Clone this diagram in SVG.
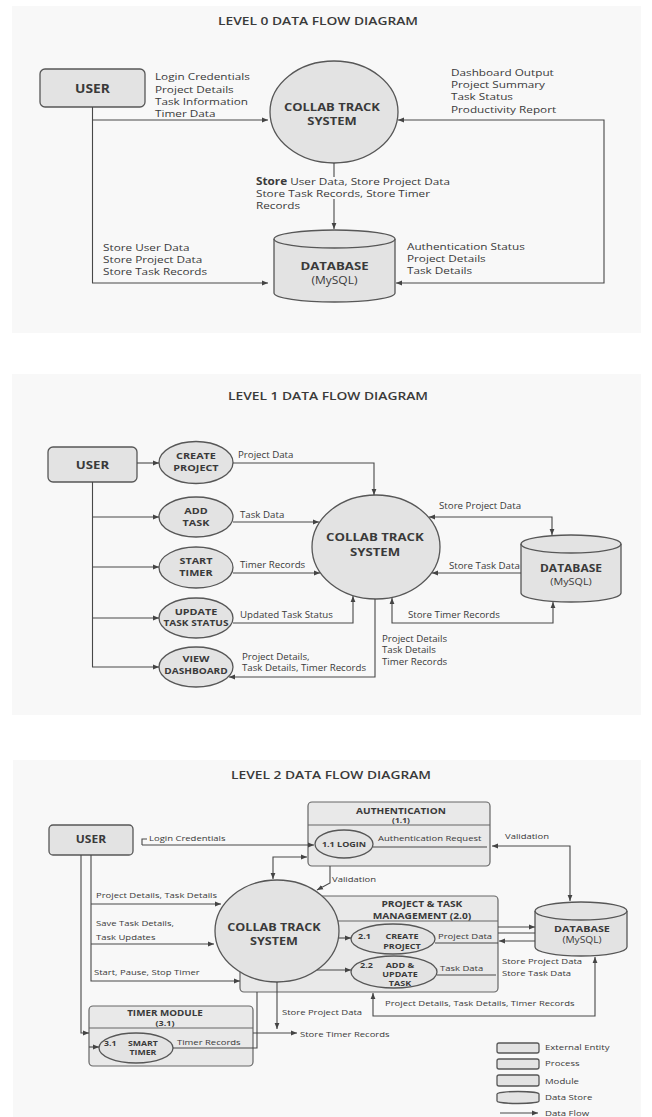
<svg xmlns="http://www.w3.org/2000/svg" width="652" height="1117" viewBox="0 0 652 1117">
<defs>
<marker id="ar" viewBox="0 0 10 10" refX="10" refY="5" markerWidth="6" markerHeight="6" markerUnits="userSpaceOnUse" orient="auto-start-reverse"><path d="M0,1 L10,5 L0,9 z" fill="#444"/></marker>
</defs>
<style>
text{font-family:"Open Sans","Liberation Sans",sans-serif;fill:#3a3a3a;transform-box:fill-box;}
.s{transform-origin:0% 50%;transform:scaleX(1.2);}
.m{text-anchor:middle;transform-origin:50% 50%;transform:scaleX(1.2);}
.ti{font-size:11.5px;font-weight:600;}
.b{font-weight:700;}
.l0{font-size:9.8px;}
.l1{font-size:8.1px;}
.l2{font-size:7.9px;}
.panel{fill:#f8f8f8;stroke:none;}
.nd{fill:#e3e3e3;stroke:#575757;stroke-width:1.3;}
.md{fill:#e9e9e9;stroke:#666;stroke-width:1.2;}
.cn path{fill:none;stroke:#484848;stroke-width:1.1;}
.ah{marker-end:url(#ar);}
.ah2{marker-start:url(#ar);marker-end:url(#ar);}
</style>
<rect width="652" height="1117" fill="#ffffff"/>
<rect class="panel" x="12" y="6" width="629" height="327"/>
<rect class="panel" x="12" y="374" width="629" height="341"/>
<rect class="panel" x="13" y="760" width="628" height="357"/>

<!-- LEVEL 0 -->
<text class="m ti" x="318" y="25">LEVEL 0 DATA FLOW DIAGRAM</text>
<g id="l0-user"><rect class="nd" x="40" y="69" width="105" height="38" rx="5"/><text class="m b" style="font-size:11.5px" x="92.5" y="93">USER</text></g>
<g id="l0-system"><ellipse class="nd" cx="334" cy="112" rx="64" ry="51"/><text class="m b" style="font-size:10.8px" x="332" y="111.5">COLLAB TRACK</text><text class="m b" style="font-size:10.8px" x="332" y="125.5">SYSTEM</text></g>
<g id="l0-db"><path class="nd" d="M274,239 A60.5,9 0 0,1 395,239 V293 A60.5,9 0 0,1 274,293 Z"/><path d="M274,239 A60.5,9 0 0,0 395,239" fill="none" stroke="#575757" stroke-width="1.3"/><text class="m b" style="font-size:11px" x="334.5" y="270">DATABASE</text><text class="m" style="font-size:10px" x="334.5" y="284">(MySQL)</text></g>
<g class="cn" id="l0-flows">
<path class="ah" d="M92.5,107 V283 H268"/>
<path class="ah" d="M92.5,120 H268"/>
<path d="M334,163 V177"/>
<path class="ah" d="M334,199 V229"/>
<path class="ah2" d="M398,120 H604 V283 H396"/>
</g>
<g id="l0-labels">
<text class="s l0" x="155" y="80.5">Login Credentials</text>
<text class="s l0" x="155" y="93">Project Details</text>
<text class="s l0" x="155" y="105">Task Information</text>
<text class="s l0" x="155" y="117.5">Timer Data</text>
<text class="s l0" x="451" y="76.5">Dashboard Output</text>
<text class="s l0" x="451" y="88.5">Project Summary</text>
<text class="s l0" x="451" y="100.5">Task Status</text>
<text class="s l0" x="451" y="113.5">Productivity Report</text>
<text class="s l0" x="256" y="185.5"><tspan font-weight="700">Store</tspan> User Data, Store Project Data</text>
<text class="s l0" x="256" y="197.5">Store Task Records, Store Timer</text>
<text class="s l0" x="256" y="209.5">Records</text>
<text class="s l0" x="103" y="251.5">Store User Data</text>
<text class="s l0" x="103" y="263.5">Store Project Data</text>
<text class="s l0" x="103" y="275.5">Store Task Records</text>
<text class="s l0" x="407" y="250.5">Authentication Status</text>
<text class="s l0" x="407" y="262.5">Project Details</text>
<text class="s l0" x="407" y="274.5">Task Details</text>
</g>

<!-- LEVEL 1 -->
<text class="m ti" x="328" y="400">LEVEL 1 DATA FLOW DIAGRAM</text>
<g id="l1-user"><rect class="nd" x="48" y="447" width="89" height="35" rx="5"/><text class="m b" style="font-size:11px" x="92.5" y="469">USER</text></g>
<g id="l1-create"><ellipse class="nd" cx="196" cy="462.5" rx="37" ry="21"/><text class="m b" style="font-size:9px" x="196" y="459">CREATE</text><text class="m b" style="font-size:9px" x="196" y="471">PROJECT</text></g>
<g id="l1-add"><ellipse class="nd" cx="196" cy="517" rx="37" ry="20"/><text class="m b" style="font-size:9px" x="196" y="514">ADD</text><text class="m b" style="font-size:9px" x="196" y="526">TASK</text></g>
<g id="l1-start"><ellipse class="nd" cx="196" cy="567.5" rx="37" ry="20.5"/><text class="m b" style="font-size:9px" x="196" y="564">START</text><text class="m b" style="font-size:9px" x="196" y="576">TIMER</text></g>
<g id="l1-update"><ellipse class="nd" cx="196" cy="618" rx="37" ry="20"/><text class="m b" style="font-size:9px" x="196" y="615">UPDATE</text><text class="m b" style="font-size:8.4px" x="196" y="626">TASK STATUS</text></g>
<g id="l1-view"><ellipse class="nd" cx="196" cy="667" rx="37" ry="20"/><text class="m b" style="font-size:9px" x="196" y="662">VIEW</text><text class="m b" style="font-size:8.4px" x="196" y="674">DASHBOARD</text></g>
<g id="l1-system"><ellipse class="nd" cx="376" cy="547" rx="64" ry="52"/><text class="m b" style="font-size:11px" x="375" y="541.5">COLLAB TRACK</text><text class="m b" style="font-size:11px" x="375" y="556">SYSTEM</text></g>
<g id="l1-db"><path class="nd" d="M521,544 A50,9 0 0,1 621,544 V593 A50,9 0 0,1 521,593 Z"/><path d="M521,544 A50,9 0 0,0 621,544" fill="none" stroke="#575757" stroke-width="1.3"/><text class="m b" style="font-size:10px" x="571" y="572">DATABASE</text><text class="m" style="font-size:9px" x="571" y="585.5">(MySQL)</text></g>
<g class="cn" id="l1-flows">
<path class="ah" d="M137,463 H159"/>
<path class="ah" d="M92.5,482 V667 H159"/>
<path class="ah" d="M92.5,517 H159"/>
<path class="ah" d="M92.5,567 H159"/>
<path class="ah" d="M92.5,618 H159"/>
<path class="ah" d="M233,463 H374 V495"/>
<path class="ah" d="M233,522 H319"/>
<path class="ah" d="M233,573 H320"/>
<path class="ah" d="M233,623 H353 V596"/>
<path class="ah" d="M375,599 V677 H229"/>
<path class="ah2" d="M429,517 H552 V535"/>
<path class="ah" d="M521,573 H432"/>
<path class="ah2" d="M392,598 V623 H553 V602"/>
</g>
<g id="l1-labels">
<text class="s l1" x="238" y="458">Project Data</text>
<text class="s l1" x="240" y="518">Task Data</text>
<text class="s l1" x="240" y="568">Timer Records</text>
<text class="s l1" x="240" y="618">Updated Task Status</text>
<text class="s l1" x="242" y="660">Project Details,</text>
<text class="s l1" x="242" y="671">Task Details, Timer Records</text>
<text class="s l1" x="382" y="642">Project Details</text>
<text class="s l1" x="382" y="653">Task Details</text>
<text class="s l1" x="382" y="665">Timer Records</text>
<text class="s l1" x="439" y="509">Store Project Data</text>
<text class="s l1" x="449" y="569">Store Task Data</text>
<text class="s l1" x="408" y="618">Store Timer Records</text>
</g>

<!-- LEVEL 2 -->
<text class="m ti" x="331" y="779">LEVEL 2 DATA FLOW DIAGRAM</text>
<g id="l2-user"><rect class="nd" x="49" y="825" width="84" height="30" rx="4"/><text class="m b" style="font-size:10px" x="91" y="843.5">USER</text></g>
<g id="l2-auth"><rect class="md" x="308" y="802" width="182" height="64" rx="4"/><path d="M308,825 H490" stroke="#666" stroke-width="1.1"/><text class="m b" style="font-size:8.4px" x="401" y="814">AUTHENTICATION</text><text class="m b" style="font-size:7px" x="401" y="823.5">(1.1)</text>
<ellipse class="nd" cx="344" cy="844" rx="29" ry="14"/><text class="m b" style="font-size:7.5px" x="344" y="847">1.1 LOGIN</text></g>
<g id="l2-ptm"><rect class="md" x="240" y="896" width="258" height="96" rx="4"/><path d="M240,921 H498" stroke="#666" stroke-width="1.1"/><text class="m b" style="font-size:8.5px" x="422" y="907.5">PROJECT &amp; TASK</text><text class="m b" style="font-size:8.5px" x="422" y="919">MANAGEMENT (2.0)</text></g>
<g id="l2-p21"><ellipse class="nd" cx="393" cy="939" rx="42" ry="15"/><text class="s b" style="font-size:7.5px" x="358" y="939">2.1</text><text class="m b" style="font-size:7.5px" x="402" y="939">CREATE</text><text class="m b" style="font-size:7.5px" x="402" y="949">PROJECT</text></g>
<g id="l2-p22"><ellipse class="nd" cx="394" cy="972" rx="43" ry="16"/><text class="s b" style="font-size:7.5px" x="360" y="968">2.2</text><text class="m b" style="font-size:7.5px" x="400" y="968">ADD &amp;</text><text class="m b" style="font-size:7.5px" x="400" y="977">UPDATE</text><text class="m b" style="font-size:7.5px" x="400" y="986">TASK</text></g>
<g id="l2-system"><ellipse class="nd" cx="277" cy="931" rx="62" ry="51"/><text class="m b" style="font-size:10.5px" x="274" y="931.5">COLLAB TRACK</text><text class="m b" style="font-size:10.5px" x="274" y="945">SYSTEM</text></g>
<g id="l2-db"><path class="nd" d="M535,911 A46,9 0 0,1 627,911 V947 A46,9 0 0,1 535,947 Z"/><path d="M535,911 A46,9 0 0,0 627,911" fill="none" stroke="#575757" stroke-width="1.3"/><text class="m b" style="font-size:9px" x="582" y="932">DATABASE</text><text class="m" style="font-size:8.5px" x="582" y="943.5">(MySQL)</text></g>
<g id="l2-timer"><rect class="md" x="89" y="1006" width="164" height="60" rx="4"/><path d="M89,1028 H253" stroke="#666" stroke-width="1.1"/><text class="m b" style="font-size:8.2px" x="165" y="1016">TIMER MODULE</text><text class="m b" style="font-size:7.5px" x="165" y="1026">(3.1)</text>
<ellipse class="nd" cx="136" cy="1048" rx="37" ry="15"/><text class="s b" style="font-size:7.3px" x="104" y="1046">3.1</text><text class="m b" style="font-size:7.3px" x="143" y="1046">SMART</text><text class="m b" style="font-size:7.3px" x="143" y="1055">TIMER</text></g>
<g class="cn" id="l2-flows">
<path class="ah" d="M142,845 H314"/>
<path d="M142,845 V839 H147"/>
<path d="M373,847 H487"/>
<path class="ah2" d="M492,846 H570 V901"/>
<path class="ah2" d="M273,879 V857 H307"/>
<path class="ah" d="M330,866 V883 L317,890"/>
<path class="ah" d="M339,938 H351"/>
<path class="ah" d="M317,970 H351"/>
<path d="M435,943 H498"/>
<path d="M437,975 H496"/>
<path class="ah" d="M498,927 H535"/>
<path d="M498,933 H535"/>
<path class="ah" d="M535,941 H499"/>
<path class="ah2" d="M595,957 V1016 H373 V993"/>
<path class="ah" d="M277,982 V1029"/>
<path class="ah" d="M253,1033 H297"/>
<path d="M173,1048 H257 V992"/>
<path class="ah" d="M81,855 V1033 H89"/>
<path class="ah" d="M91,855 V981 H240"/>
<path class="ah" d="M91,904 H221"/>
<path class="ah" d="M91,944 H214"/>
<path class="ah" d="M89,1047 H99"/>
</g>
<g id="l2-labels">
<text class="s l2" x="149" y="841">Login Credentials</text>
<text class="s l2" x="378" y="841">Authentication Request</text>
<text class="s l2" x="505" y="839">Validation</text>
<text class="s l2" x="332" y="882">Validation</text>
<text class="s l2" x="96" y="898">Project Details, Task Details</text>
<text class="s l2" x="96" y="926">Save Task Details,</text>
<text class="s l2" x="96" y="940">Task Updates</text>
<text class="s l2" x="94" y="975">Start, Pause, Stop Timer</text>
<text class="s l2" x="438" y="939">Project Data</text>
<text class="s l2" x="440" y="971">Task Data</text>
<text class="s l2" x="502" y="964">Store Project Data</text>
<text class="s l2" x="502" y="976">Store Task Data</text>
<text class="s l2" x="385" y="1006">Project Details, Task Details, Timer Records</text>
<text class="s l2" x="282" y="1015">Store Project Data</text>
<text class="s l2" x="300" y="1037">Store Timer Records</text>
<text class="s l2" x="177" y="1045">Timer Records</text>
</g>
<g id="legend">
<rect class="nd" x="497" y="1043" width="42" height="10" rx="2"/><text class="s l2" style="font-size:8px" x="545" y="1050">External Entity</text>
<rect class="nd" x="497" y="1059" width="42" height="10" rx="2"/><text class="s l2" style="font-size:8px" x="545" y="1066">Process</text>
<rect class="nd" x="497" y="1075" width="42" height="11" rx="2"/><text class="s l2" style="font-size:8px" x="545" y="1084">Module</text>
<path class="nd" d="M497,1094 A21,2.5 0 0,1 539,1094 V1101 A21,2.5 0 0,1 497,1101 Z"/><text class="s l2" style="font-size:8px" x="545" y="1100">Data Store</text>
<path d="M500,1113 H538" stroke="#484848" stroke-width="1.1" marker-end="url(#ar)"/><text class="s l2" style="font-size:8px" x="545" y="1116">Data Flow</text>
</g>
</svg>
